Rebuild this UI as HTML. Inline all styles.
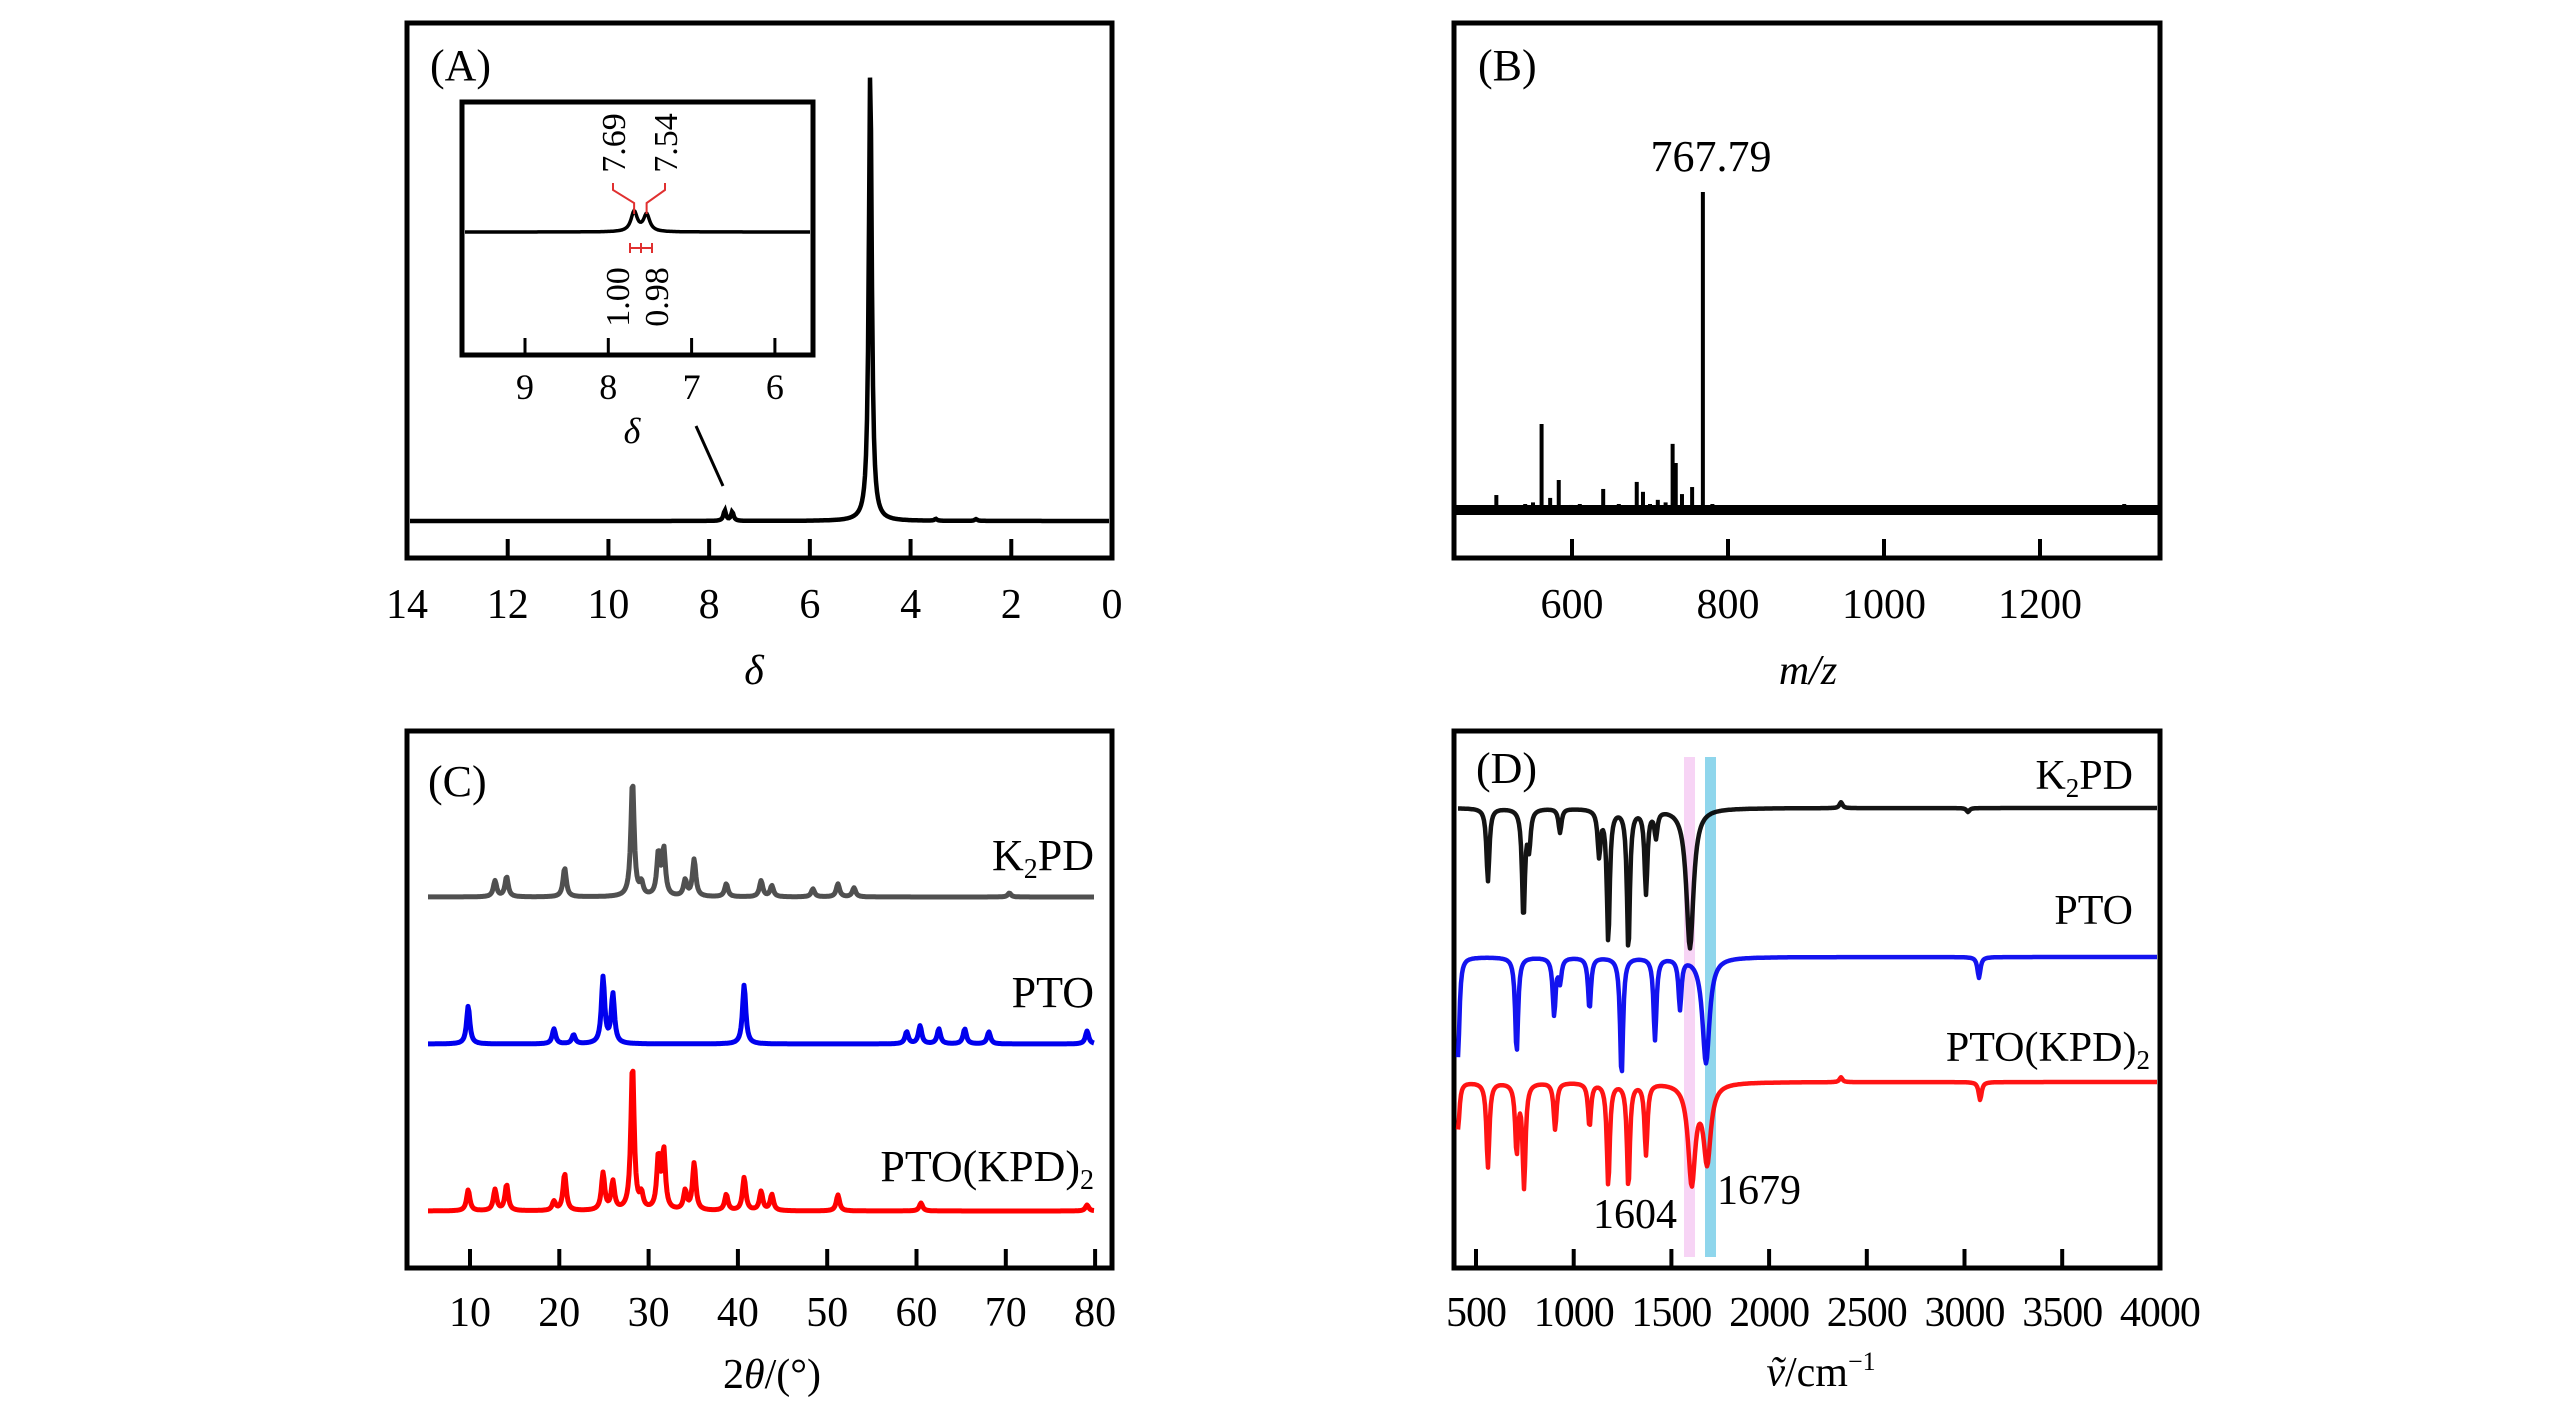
<!DOCTYPE html>
<html><head><meta charset="utf-8">
<style>
html,body{margin:0;padding:0;background:#fff;}
svg{display:block;}
text{font-family:"Liberation Serif","Times New Roman",serif;fill:#000;}
</style></head>
<body>
<svg id="fig" width="2567" height="1417" viewBox="0 0 2567 1417" xmlns="http://www.w3.org/2000/svg">
<g id="gA"></g>
<g id="gB"></g>
<g id="gC"></g>
<g id="gD"></g>
</svg>
<script>
// ---------- Panel A data (1H NMR) ----------
const nmrTicks = [14, 12, 10, 8, 6, 4, 2, 0];
const nmrPeakPos = [4.80, 7.69, 7.54, 3.5, 2.7];
const nmrPeakAmp = [100, 2.3, 2.0, 0.4, 0.4];
const nmrPeakWid = [0.035, 0.03, 0.03, 0.03, 0.03];
const insetTicks = [9, 8, 7, 6];
const insetPeakPos = [7.69, 7.54];
const insetPeakAmp = [20, 17];
const insetPeakLabels = ["7.69", "7.54"];
const insetIntegrals = ["1.00", "0.98"];
// ---------- Panel B data (MS) ----------
const msTicks = [600, 800, 1000, 1200];
const msPeakMz = [470, 485, 503, 520, 540, 550, 561, 572, 583, 599, 610, 625, 640, 660, 683, 691, 700, 710, 720, 729, 733, 741, 754, 767.79, 780, 800, 820, 850, 880, 910, 940, 960, 1000, 1050, 1100, 1150, 1200, 1250, 1280, 1308, 1340];
const msPeakInt = [2, 2, 5.3, 2, 2.5, 3, 27.5, 4.4, 10, 2.2, 2.5, 2, 7.2, 2.5, 9.4, 6.3, 2.5, 3.8, 3, 21.3, 15.3, 5.6, 7.8, 100, 2.5, 2, 2, 1.8, 1.8, 1.5, 1.5, 1.5, 1.5, 1.5, 1.5, 1.5, 1.5, 1.5, 1.5, 2.5, 1.5];
const msLabel = "767.79";
// ---------- Panel C data (XRD) ----------
const xrdTicks = [10, 20, 30, 40, 50, 60, 70, 80];
const k2pdPos = [12.8, 14.1, 20.6, 28.2, 29.2, 31.1, 31.7, 34.1, 35.1, 38.7, 42.6, 43.8, 48.4, 51.2, 53.0, 70.4];
const k2pdAmp = [16, 20, 29, 116, 12, 42, 46, 16, 37, 13, 16, 11, 8, 13, 9, 4];
const ptoPos = [9.8, 19.4, 21.6, 24.9, 26.0, 40.7, 58.9, 60.4, 62.5, 65.4, 68.1, 79.1];
const ptoAmp = [38, 15, 9, 66, 49, 59, 12, 18, 15, 15, 12, 13];
const mixPos = [9.8, 12.8, 14.1, 19.4, 20.6, 24.9, 26.0, 28.2, 29.2, 31.1, 31.7, 34.1, 35.1, 38.7, 40.7, 42.6, 43.8, 51.2, 60.5, 79.1];
const mixAmp = [21, 21, 26, 9, 37, 37, 28, 146, 14, 52, 58, 19, 47, 16, 33, 19, 16, 16, 8, 6];
// ---------- Panel D data (FTIR, dips) ----------
const irTicks = [500, 1000, 1500, 2000, 2500, 3000, 3500, 4000];
const irK2pdPos = [561, 743, 772, 930, 1130, 1177, 1280, 1370, 1421, 1595, 2368, 3018];
const irK2pdDep = [73, 109, 36, 24, 45, 132, 142, 83, 26, 140, -6, 4];
const irPtoPos = [408, 708, 900, 930, 1081, 1245, 1416, 1544, 1677, 3074];
const irPtoDep = [100, 96, 57, 23, 52, 120, 82, 50, 106, 21];
const irMixPos = [408, 561, 708, 746, 905, 1081, 1177, 1280, 1370, 1604, 1683, 2368, 3080];
const irMixDep = [47, 85, 68, 103, 47, 44, 103, 105, 71, 99, 77, -5, 18];
const irMarks = [1604, 1679];

const NS = "http://www.w3.org/2000/svg";
function mk(parent, tag, attrs, txt) {
  const e = document.createElementNS(NS, tag);
  for (const k in attrs) e.setAttribute(k, attrs[k]);
  if (txt !== undefined) e.textContent = txt;
  parent.appendChild(e);
  return e;
}
function lor(x, p, w) { const d = (x - p) / w; return 1 / (1 + d * d); }
function specPath(x0, x1, toVal, pos, amp, wid, yBase, scale) {
  let d = "";
  for (let px = x0; px <= x1; px += 1) {
    const v = toVal(px);
    let s = 0;
    for (let i = 0; i < pos.length; i++) s += amp[i] * lor(v, pos[i], wid[i] !== undefined ? wid[i] : wid);
    d += (px === x0 ? "M" : "L") + px + "," + (yBase - s * scale).toFixed(1);
  }
  return d;
}
function frame(g, x0, y0, x1, y1) {
  const r = mk(g, "rect", {x: x0, y: y0, width: x1 - x0, height: y1 - y0, fill: "none", stroke: "#000", "stroke-width": 5});
  
  
}

// ================= Panel A =================
(function () {
  const g = document.getElementById("gA");
  const L = 407, R = 1112, T = 23, B = 558;
  const xs = d => L + (14 - d) / 14 * (R - L);
  const inv = px => 14 - (px - L) / (R - L) * 14;
  frame(g, L, T, R, B);
  const lbl = mk(g, "text", {x: 430, y: 80, "font-size": 44}, "(A)");
  
  
  nmrTicks.forEach(t => {
    const x = xs(t);
    if (t !== 14 && t !== 0) {
      const tk = mk(g, "line", {x1: x, y1: B, x2: x, y2: B - 19, stroke: "#000", "stroke-width": 4});
      
      
    }
    const tl = mk(g, "text", {x: x, y: 618, "font-size": 42, "text-anchor": "middle"}, String(t));
    
    
  });
  const p = mk(g, "path", {d: specPath(L + 3, R - 3, inv, nmrPeakPos, nmrPeakAmp, nmrPeakWid, 521, 4.55), fill: "none", stroke: "#000", "stroke-width": 4.5});
  
  
  const t = mk(g, "text", {x: 754, y: 684, "font-size": 42, "font-style": "italic", "text-anchor": "middle"}, "δ");
  
  
  const pl = mk(g, "line", {x1: 696, y1: 426, x2: 723, y2: 486, stroke: "#000", "stroke-width": 3});
  
  
  // inset
  const iL = 462, iR = 813, iT = 102, iB = 355;
  const ixs = d => 525 + (9 - d) * 83.3;
  const iinv = px => 9 - (px - 525) / 83.3;
  const ig = mk(g, "g", {});
  
  
  frame(ig, iL, iT, iR, iB);
  insetTicks.forEach(tv => {
    const x = ixs(tv);
    const tk = mk(ig, "line", {x1: x, y1: iB, x2: x, y2: iB - 17, stroke: "#000", "stroke-width": 3});
    
    
    const tl = mk(ig, "text", {x: x, y: 399, "font-size": 36, "text-anchor": "middle"}, String(tv));
    
    
  });
  const ip = mk(ig, "path", {d: specPath(iL + 3, iR - 3, iinv, insetPeakPos, insetPeakAmp, [0.045, 0.045], 232, 1), fill: "none", stroke: "#000", "stroke-width": 3.5});
  
  
  const it = mk(ig, "text", {x: 632, y: 443, "font-size": 36, "font-style": "italic", "text-anchor": "middle"}, "δ");
  
  
  const lx = [613, 665];
  insetPeakPos.forEach((pv, i) => {
    const x = ixs(pv);
    const br = mk(ig, "polyline", {points: `${x},214 ${x},203 ${lx[i]},190 ${lx[i]},183`, fill: "none", stroke: "#e03030", "stroke-width": 2});
    
    
    const tx = mk(ig, "text", {x: 0, y: 0, "font-size": 34, "text-anchor": "middle", transform: `translate(${lx[i] + 12},143) rotate(-90)`}, insetPeakLabels[i]);
    
    
    const ix = [617, 656][i];
    const il = mk(ig, "text", {x: 0, y: 0, "font-size": 34, "text-anchor": "middle", transform: `translate(${ix + 12},297) rotate(-90)`}, insetIntegrals[i]);
    
    
  });
  const ir = mk(ig, "path", {d: "M630,248 L652,248 M630,243 L630,253 M641,243 L641,253 M652,243 L652,253", stroke: "#e03030", "stroke-width": 2, fill: "none"});
  
  
})();

// ================= Panel B =================
(function () {
  const g = document.getElementById("gB");
  const L = 1454, R = 2160, T = 23, B = 558;
  const xs = m => 1572 + (m - 600) * 0.78;
  const ys = v => 512 - v * 3.2;
  frame(g, L, T, R, B);
  const lbl = mk(g, "text", {x: 1478, y: 80, "font-size": 44}, "(B)");
  
  
  msTicks.forEach(t => {
    const x = xs(t);
    const tk = mk(g, "line", {x1: x, y1: B, x2: x, y2: B - 19, stroke: "#000", "stroke-width": 4});
    
    
    const tl = mk(g, "text", {x: x, y: 618, "font-size": 42, "text-anchor": "middle"}, String(t));
    
    
  });
  const bl = mk(g, "rect", {x: L + 2, y: 505, width: R - L - 4, height: 10, fill: "#000"});
  
  
  msPeakMz.forEach((m, i) => {
    const s = mk(g, "line", {x1: xs(m), y1: 512, x2: xs(m), y2: ys(msPeakInt[i]), stroke: "#000", "stroke-width": 4});
    
    
  });
  const pk = mk(g, "text", {x: 1711, y: 171, "font-size": 44, "text-anchor": "middle"}, msLabel);
  
  
  const t = mk(g, "text", {x: 1808, y: 684, "font-size": 42, "font-style": "italic", "text-anchor": "middle"}, "m/z");
  
  
})();

// ================= Panel C =================
(function () {
  const g = document.getElementById("gC");
  const L = 407, R = 1112, T = 731, B = 1268;
  const xs = v => 470 + (v - 10) * 8.93;
  const inv = px => 10 + (px - 470) / 8.93;
  frame(g, L, T, R, B);
  const lbl = mk(g, "text", {x: 428, y: 796, "font-size": 44}, "(C)");
  
  
  xrdTicks.forEach(t => {
    const x = xs(t);
    const tk = mk(g, "line", {x1: x, y1: B, x2: x, y2: B - 19, stroke: "#000", "stroke-width": 4});
    
    
    const tl = mk(g, "text", {x: x, y: 1326, "font-size": 42, "text-anchor": "middle"}, String(t));
    
    
  });
  const series = [
    [k2pdPos, k2pdAmp, 897, "#505050", "k2pd-xrd"],
    [ptoPos, ptoAmp, 1044, "#0000ee", "pto-xrd"],
    [mixPos, mixAmp, 1211, "#ff0000", "pto-kpd2-xrd"]
  ];
  series.forEach(s => {
    const p = mk(g, "path", {d: specPath(428, 1094, inv, s[0], s[1], 0.22, s[2], 1), fill: "none", stroke: s[3], "stroke-width": 5, "stroke-linejoin": "round"});
    
    
  });
  const l1 = mk(g, "text", {x: 1094, y: 870, "font-size": 44, "text-anchor": "end"});
  l1.innerHTML = 'K<tspan font-size="28" dy="8">2</tspan><tspan dy="-8">PD</tspan>';
  
  
  const l2 = mk(g, "text", {x: 1094, y: 1007, "font-size": 44, "text-anchor": "end"}, "PTO");
  
  
  const l3 = mk(g, "text", {x: 1094, y: 1181, "font-size": 44, "text-anchor": "end"});
  l3.innerHTML = 'PTO(KPD)<tspan font-size="28" dy="8">2</tspan>';
  
  
  const t = mk(g, "text", {x: 772, y: 1388, "font-size": 42, "text-anchor": "middle"});
  t.innerHTML = '2<tspan font-style="italic">θ</tspan>/(°)';
  
  
})();

// ================= Panel D =================
(function () {
  const g = document.getElementById("gD");
  const L = 1454, R = 2160, T = 731, B = 1268;
  const xs = w => 1476 + (w - 500) * 0.1954;
  const inv = px => 500 + (px - 1476) / 0.1954;
  const cols = ["#f7d4f5", "#8fd6ec"];
  irMarks.forEach((w, i) => {
    const x = i === 0 ? 1684 : 1705;
    const r = mk(g, "rect", {x: x, y: 757, width: 11, height: 500, fill: cols[i]});
    
    
  });
  frame(g, L, T, R, B);
  const lbl = mk(g, "text", {x: 1476, y: 783, "font-size": 44}, "(D)");
  
  
  irTicks.forEach(t => {
    const x = xs(t);
    if (t !== 4000) {
      const tk = mk(g, "line", {x1: x, y1: B, x2: x, y2: B - 19, stroke: "#000", "stroke-width": 4});
      
      
    }
    const tl = mk(g, "text", {x: x, y: 1326, "font-size": 42, "text-anchor": "middle", "letter-spacing": -1}, String(t));
    
    
  });
  const series = [
    [irK2pdPos, irK2pdDep, 808, "#000", "k2pd-ir"],
    [irPtoPos, irPtoDep, 957, "#0000ee", "pto-ir"],
    [irMixPos, irMixDep, 1082, "#ff0000", "pto-kpd2-ir"]
  ];
  series.forEach(s => {
    const w = s[0].map(p => (p > 1550 && p < 1720) ? 22 : 9);
    const p = mk(g, "path", {d: specPath(1458, 2157, inv, s[0], s[1], w, s[2], -1), fill: "none", stroke: s[3], "stroke-width": 4.5, "stroke-linejoin": "round", "stroke-opacity": 0.92});
    
    
  });
  const l1 = mk(g, "text", {x: 2133, y: 789, "font-size": 42, "text-anchor": "end"});
  l1.innerHTML = 'K<tspan font-size="27" dy="8">2</tspan><tspan dy="-8">PD</tspan>';
  
  
  const l2 = mk(g, "text", {x: 2133, y: 924, "font-size": 42, "text-anchor": "end"}, "PTO");
  
  
  const l3 = mk(g, "text", {x: 2150, y: 1061, "font-size": 42, "text-anchor": "end"});
  l3.innerHTML = 'PTO(KPD)<tspan font-size="27" dy="8">2</tspan>';
  
  
  const a1 = mk(g, "text", {x: 1635, y: 1228, "font-size": 42, "text-anchor": "middle"}, String(irMarks[0]));
  
  
  const a2 = mk(g, "text", {x: 1717, y: 1204, "font-size": 42}, String(irMarks[1]));
  
  
  const t = mk(g, "text", {x: 1821, y: 1386, "font-size": 42, "text-anchor": "middle"});
  t.innerHTML = '<tspan font-style="italic">ṽ</tspan>/cm<tspan font-size="26" dy="-16">−1</tspan>';
  
  
})();
</script>
</body></html>
